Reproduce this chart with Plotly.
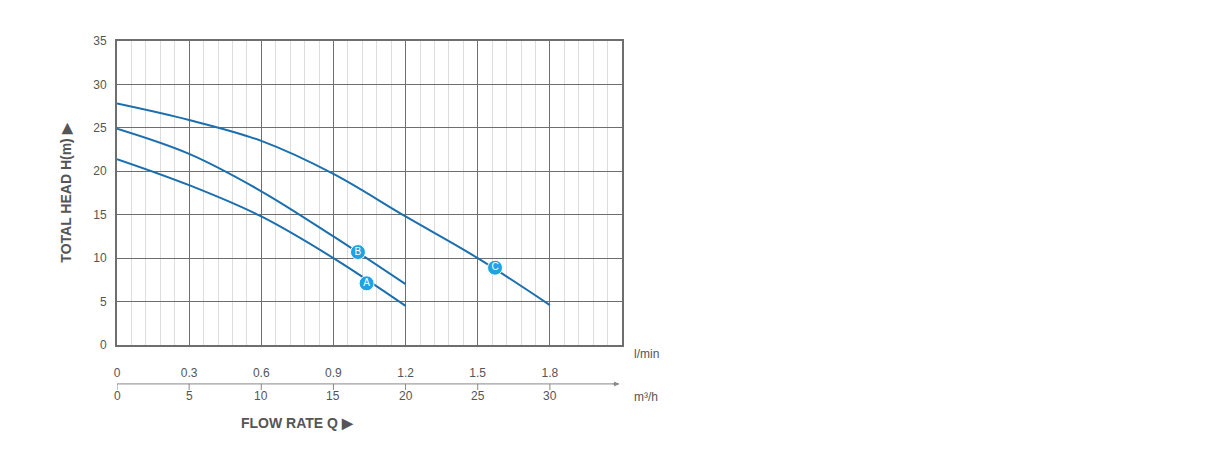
import plotly.graph_objects as go

# pump curves, flow in m3/h, head in m
flow = [0, 5, 10, 15, 20]
head_a = [21.4, 18.4, 14.8, 10.0, 4.5]
head_b = [24.9, 22.0, 17.7, 12.5, 7.0]
flow_c = [0, 5, 10, 15, 20, 25, 30]
head_c = [27.8, 25.9, 23.5, 19.7, 14.8, 10.0, 4.6]

labels = ["A", "B", "C"]
label_x = [17.3, 16.7, 26.2]
label_y = [7.1, 10.7, 8.9]

m3h_ticks = [0, 5, 10, 15, 20, 25, 30]
lmin_text = ["0", "0.3", "0.6", "0.9", "1.2", "1.5", "1.8"]

line_col = "#1b6fae"
dot_col = "#1ea3e3"
txt = "#555555"

fig = go.Figure()
for xs, ys in [(flow, head_a), (flow, head_b), (flow_c, head_c)]:
    fig.add_trace(go.Scatter(x=xs, y=ys, mode="lines", line=dict(color=line_col, width=2, shape="spline"),
                             hoverinfo="skip"))
fig.add_trace(go.Scatter(x=label_x, y=label_y, mode="markers+text", text=labels,
                         marker=dict(color=dot_col, size=15, line=dict(color="white", width=1)),
                         textfont=dict(color="white", size=10, family="Arial"), textposition="middle center"))

fig.update_layout(
    width=1210, height=449, showlegend=False,
    margin=dict(l=109, r=596, t=33, b=112),
    plot_bgcolor="white", paper_bgcolor="white",
    font=dict(family="Arial, Liberation Sans", color=txt, size=12),
    xaxis=dict(range=[0, 35], tickvals=m3h_ticks, ticktext=lmin_text, ticks="", ticklabelstandoff=16,
               showgrid=True, gridcolor="#6e6e6e", gridwidth=1,
               minor=dict(dtick=1, showgrid=True, gridcolor="#dddddd", gridwidth=1),
               showline=True, linecolor="#6e6e6e", linewidth=2, mirror=True, zeroline=False),
    yaxis=dict(range=[0, 35], dtick=5, showgrid=True, gridcolor="#6e6e6e", ticks="",
               ticklabelstandoff=6, showline=True, linecolor="#6e6e6e", linewidth=2, mirror=True,
               zeroline=False,
               title=dict(text="<b>TOTAL HEAD H(m) ▶</b>", font=dict(size=14, color=txt), standoff=18)),
)

# second (m3/h) scale drawn under the plot
fig.add_shape(type="line", xref="x", yref="paper", x0=0, x1=34.8, y0=-0.128, y1=-0.128,
              line=dict(color="#888888", width=1))
fig.add_annotation(xref="x", yref="paper", x=34.8, y=-0.128, ax=-8, ay=0, showarrow=True,
                   arrowhead=2, arrowsize=1, arrowwidth=1, arrowcolor="#888888", text="")
for v in m3h_ticks:
    fig.add_shape(type="line", xref="x", yref="paper", x0=v, x1=v, y0=-0.128, y1=-0.148,
                  line=dict(color="#888888", width=1))
    fig.add_annotation(xref="x", yref="paper", x=v, y=-0.197, text=str(v), showarrow=False,
                       font=dict(size=12, color=txt))
fig.add_annotation(xref="paper", yref="paper", x=1.02, y=-0.06, text="l/min", showarrow=False,
                   xanchor="left", font=dict(size=12, color=txt))
fig.add_annotation(xref="paper", yref="paper", x=1.02, y=-0.2, text="m³/h", showarrow=False,
                   xanchor="left", font=dict(size=12, color=txt))
fig.add_annotation(xref="x", yref="paper", x=12.5, y=-0.29, text="<b>FLOW RATE Q ▶</b>",
                   showarrow=False, font=dict(size=14, color=txt))

fig.write_html("out.html")
